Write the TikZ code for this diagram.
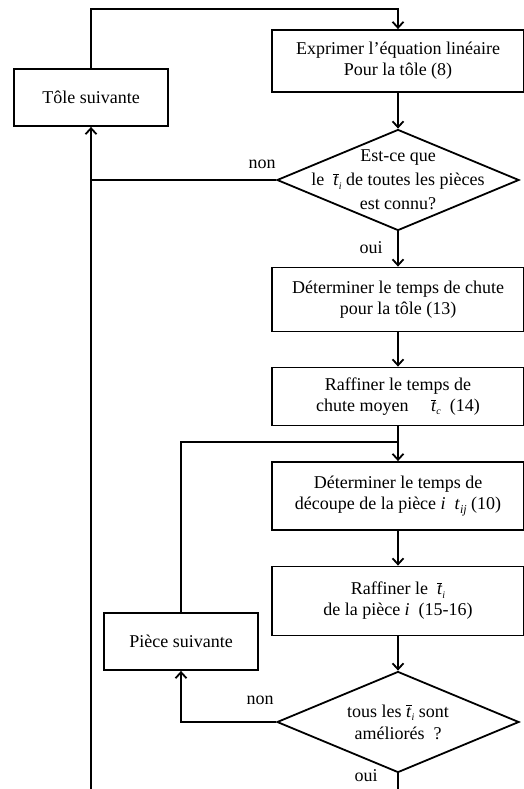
\documentclass[tikz,border=0pt]{standalone}
\usepackage{fontspec}
\setmainfont{Liberation Serif}
\usetikzlibrary{arrows.meta,shapes.geometric}
\newcommand{\tbar}[1]{$\overline{\hbox{\textit{t}}}$\raisebox{-0.4ex}{\fontsize{10}{10}\selectfont\textit{#1}}}
\newcommand{\tind}[1]{\textit{t}\raisebox{-0.4ex}{\fontsize{12}{12}\selectfont\textit{#1}}}
\begin{document}
\begin{tikzpicture}[x=1pt,y=-1pt,font=\fontsize{18}{21}\selectfont,
    etape/.style={draw,line width=1.8pt,align=center,inner sep=0pt},
    test/.style={draw,diamond,line width=1.8pt,inner sep=0pt,minimum width=242,minimum height=101},
    fleche/.style={line width=1.8pt,-{Straight Barb[length=6pt,width=11pt]}},
    ligne/.style={line width=1.8pt}]
        \useasboundingbox (0,0) rectangle (523,789);

        % colonne de droite
        \node[etape,minimum width=252,minimum height=62] (exprimer) at (398,61) {Exprimer l’équation linéaire\\Pour la tôle (8)};
        \node[test] (connu) at (398,180) {};
        \node[align=center,font=\fontsize{18}{24}\selectfont] (connutxt) at (398,180) {Est-ce que\\le \ \tbar{i} de toutes les pièces\\est connu?};
        \node[etape,minimum width=252,minimum height=64] (chute) at (398,299.5) {Déterminer le temps de chute\\pour la tôle (13)};
        \node[etape,minimum width=252,minimum height=58] (moyen) at (398,396.5) {Raffiner le temps de\\chute moyen \quad \tbar{c} \ (14)};
        \node[etape,minimum width=252,minimum height=68] (decoupe) at (398,496) {Déterminer le temps de\\découpe de la pièce \textit{i}\ \ \tind{ij} (10)};
        \node[etape,minimum width=252,minimum height=69] (raffiner) at (398,601) {Raffiner le \ \tbar{i}\\de la pièce \textit{i} \ (15-16)};
        \node[test] (ameliore) at (398,722) {};
        \node[align=center,font=\fontsize{18}{22}\selectfont] (amelioretxt) at (398,722) {tous les \tbar{i} sont\\améliorés \ ?};

        % colonne de gauche
        \node[etape,minimum width=154,minimum height=57] (tole) at (91,97.5) {Tôle suivante};
        \node[etape,minimum width=154,minimum height=57] (piece) at (181,641.5) {Pièce suivante};

        \coordinate (haut) at (245,9);
        \coordinate (boucle) at (398,442);
        \coordinate (bas) at (91,789);
        \coordinate (fin) at (398,789);

        \node (non1) at (262,164) {non};
        \node (oui1) at (371,248) {oui};
        \node (non2) at (260,700) {non};
        \node (oui2) at (366,776) {oui};

        \draw[fleche] (tole.north) |- (haut) -| (exprimer.north);
        \draw[fleche] (exprimer) -- (connu);
        \draw[ligne] (connu.west) -- (connu.west -| tole.south);
        \draw[fleche] (bas) -- (tole.south);
        \draw[fleche] (connu) -- (chute);
        \draw[fleche] (chute) -- (moyen);
        \draw[fleche] (moyen) -- (decoupe);
        \draw[ligne] (piece.north) |- (boucle);
        \draw[fleche] (decoupe) -- (raffiner);
        \draw[fleche] (raffiner) -- (ameliore);
        \draw[fleche] (ameliore.west) -| (piece.south);
        \draw[ligne] (ameliore.south) -- (fin);
\end{tikzpicture}
\end{document}
